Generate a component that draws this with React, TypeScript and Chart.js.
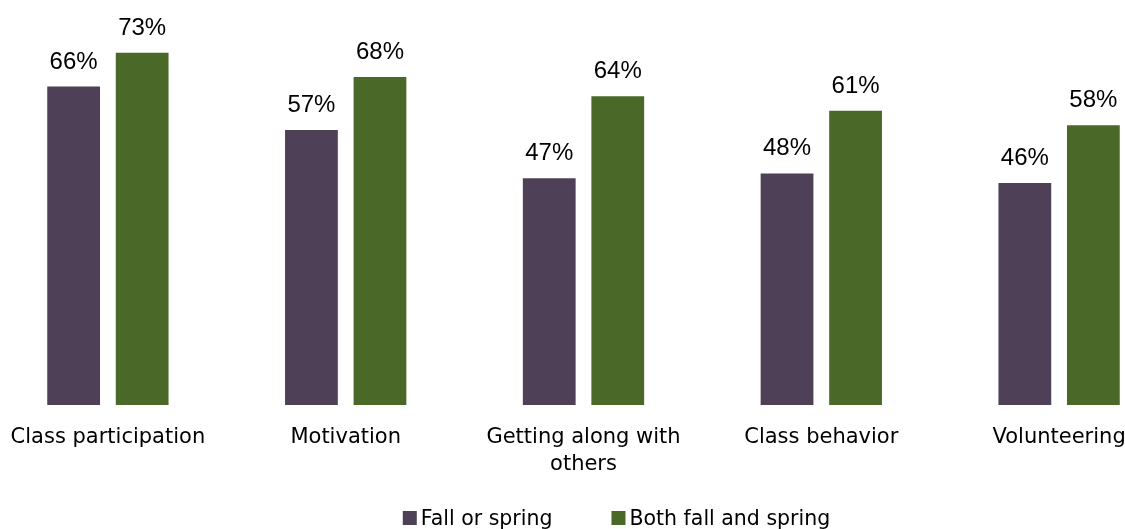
import React, { useEffect, useRef } from "react";
import { Chart, registerables } from "chart.js";

Chart.register(...registerables);

// ---- Data ----
const categories: (string | string[])[] = [
  "Class participation",
  "Motivation",
  ["Getting along with", "others"],
  "Class behavior",
  "Volunteering",
];
const seriesNames = ["Fall or spring", "Both fall and spring"];
const fallOrSpring = [66, 57, 47, 48, 46];
const bothFallAndSpring = [73, 68, 64, 61, 58];
const seriesColors = ["#4E4056", "#4A6827"];

// ---- Layout ----
const PAGE_W = 1125;
const PAGE_H = 529;
const CANVAS_LEFT = -11.5;
const CANVAS_W = 1189;
const PLOT_BOTTOM = 405;
const LEGEND_CENTER_PAGE_X = 616;

const dataLabelPlugin = {
  id: "dataLabels",
  afterDatasetsDraw(chart: any) {
    const ctx = chart.ctx;
    ctx.save();
    ctx.font = "24px 'Liberation Sans'";
    ctx.fillStyle = "#000000";
    ctx.textAlign = "center";
    ctx.textBaseline = "alphabetic";
    chart.data.datasets.forEach((ds: any, i: number) => {
      const meta = chart.getDatasetMeta(i);
      meta.data.forEach((el: any, j: number) => {
        ctx.fillText(`${ds.data[j]}%`, el.x, el.y - 18);
      });
    });
    ctx.restore();
  },
};

const legendPlugin = {
  id: "customLegend",
  afterDraw(chart: any) {
    const ctx = chart.ctx;
    ctx.save();
    ctx.font = "20.5px 'DejaVu Sans'";
    ctx.textBaseline = "alphabetic";
    ctx.textAlign = "left";
    const box = 14;
    const boxGap = 4;
    const itemGap = 59;
    const items = chart.data.datasets.map((ds: any) => ({
      label: ds.label as string,
      color: ds.backgroundColor as string,
      w: ctx.measureText(ds.label).width,
    }));
    let total = 0;
    items.forEach((it: any, i: number) => {
      total += box + boxGap + it.w + (i < items.length - 1 ? itemGap : 0);
    });
    let x = LEGEND_CENTER_PAGE_X - CANVAS_LEFT - total / 2;
    const baseY = 525;
    items.forEach((it: any) => {
      ctx.fillStyle = it.color;
      ctx.fillRect(x, baseY - 14, box, box);
      ctx.fillStyle = "#000000";
      ctx.fillText(it.label, x + box + boxGap, baseY);
      x += box + boxGap + it.w + itemGap;
    });
    ctx.restore();
  },
};

export default function App() {
  const canvasRef = useRef<HTMLCanvasElement | null>(null);

  useEffect(() => {
    if (!canvasRef.current) return;
    const chart = new Chart(canvasRef.current, {
      type: "bar",
      data: {
        labels: categories as any,
        datasets: [
          {
            label: seriesNames[0],
            data: fallOrSpring,
            backgroundColor: seriesColors[0],
            categoryPercentage: 0.5764,
            barPercentage: 0.77,
          },
          {
            label: seriesNames[1],
            data: bothFallAndSpring,
            backgroundColor: seriesColors[1],
            categoryPercentage: 0.5764,
            barPercentage: 0.77,
          },
        ],
      },
      options: {
        animation: false,
        responsive: false,
        devicePixelRatio: 1,
        layout: { padding: { top: 19, left: 0, right: 0, bottom: 0 } },
        plugins: {
          legend: { display: false },
          tooltip: { enabled: false },
        },
        scales: {
          x: {
            grid: { display: false, drawTicks: false },
            border: { display: false },
            ticks: {
              color: "#000000",
              font: { family: "'DejaVu Sans'", size: 21, lineHeight: 1.29 },
              padding: 19,
              maxRotation: 0,
              autoSkip: false,
            },
            afterFit(scale: any) {
              scale.height = PAGE_H - PLOT_BOTTOM;
            },
          },
          y: {
            display: false,
            min: 0,
            max: 80,
          },
        },
      },
      plugins: [dataLabelPlugin, legendPlugin],
    });
    return () => chart.destroy();
  }, []);

  return (
    <div
      style={{
        position: "fixed",
        left: 0,
        top: 0,
        width: PAGE_W,
        height: PAGE_H,
        overflow: "hidden",
        background: "#ffffff",
      }}
    >
      <canvas
        ref={canvasRef}
        width={CANVAS_W}
        height={PAGE_H}
        style={{
          position: "absolute",
          left: CANVAS_LEFT,
          top: 0,
          width: CANVAS_W,
          height: PAGE_H,
        }}
      />
    </div>
  );
}
